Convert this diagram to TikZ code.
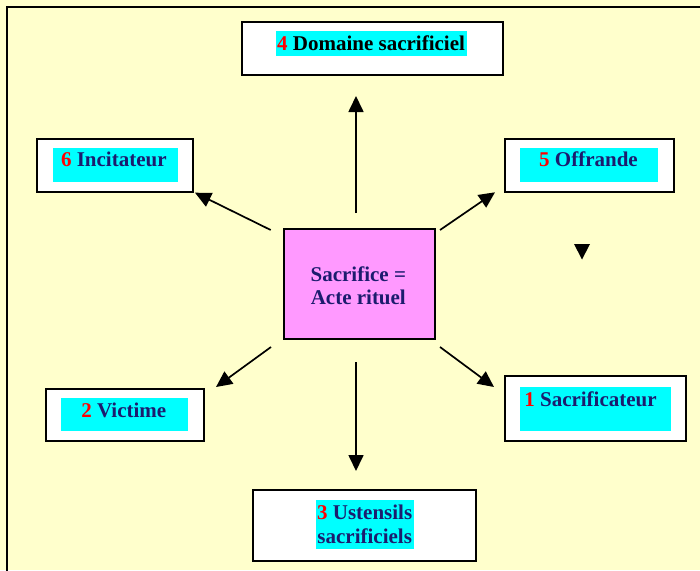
\documentclass[tikz,border=0pt]{standalone}
\usepackage{fontspec}
\setmainfont{Liberation Serif}
\usetikzlibrary{arrows.meta}
\definecolor{paper}{HTML}{FFFFCC}
\definecolor{pinkbox}{HTML}{FF99FF}
\definecolor{hl}{HTML}{00FFFF}
\definecolor{ink}{HTML}{1C1C6E}
\definecolor{num}{HTML}{FF0000}
\newcommand{\nb}[1]{\textcolor{num}{#1}}

\begin{document}
\begin{tikzpicture}[x=1pt,y=-1pt,
  frame/.style={draw=black,line width=2pt,fill=white,inner sep=0pt},
  centre/.style={frame,fill=pinkbox},
  lbl/.style={font=\fontsize{21}{23.5}\selectfont\bfseries,text=ink,inner sep=0pt,anchor=base,align=center},
  conn/.style={line width=1.7pt,-{Triangle[length=16pt,width=15pt]}},
]
\useasboundingbox (0,0) rectangle (700,570);
\fill[paper] (0,0) rectangle (700,570);
\draw[line width=2pt] (7,580) -- (7,7) -- (710,7);

% boxes
\node[frame,minimum width=261pt,minimum height=53pt] (n4) at (372.5,48) {};
\node[frame,minimum width=156pt,minimum height=53pt] (n6) at (115,165) {};
\node[frame,minimum width=169pt,minimum height=53pt] (n5) at (589,165) {};
\node[frame,minimum width=181pt,minimum height=65pt] (n1) at (595.5,408.5) {};
\node[frame,minimum width=158pt,minimum height=52pt] (n2) at (124.5,415) {};
\node[frame,minimum width=223pt,minimum height=71pt] (n3) at (364.5,525.7) {};
\node[centre,minimum width=151pt,minimum height=110pt] (c) at (359.5,284) {};

% cyan text highlights
\fill[hl] (276,31) rectangle (467,55.5);
\fill[hl] (53,147.5) rectangle (178,181.5);
\fill[hl] (520,147.5) rectangle (657.5,181.5);
\fill[hl] (520,387) rectangle (671,431);
\fill[hl] (61,397.5) rectangle (188,430.5);
\fill[hl] (316,500) rectangle (413.5,549);

% labels (multi-line labels sit on the baseline of their last line)
\node[lbl,text=black] (t4) at (371,50.7) {\nb{4} Domaine sacrificiel};
\node[lbl] (t6) at (113.8,166.7) {\nb{6} Incitateur};
\node[lbl] (t5) at (588.5,166.7) {\nb{5} Offrande};
\node[lbl] (t1) at (590.5,406.7) {\nb{1} Sacrificateur};
\node[lbl] (t2) at (123.8,417.7) {\nb{2} Victime};
\node[lbl] (t3) at (364.7,543) {\nb{3} Ustensils\\sacrificiels};
\node[lbl] (tc) at (358.3,304.5) {Sacrifice =\\Acte rituel};

% arrow ends
\coordinate (c-up) at (356,213);   \coordinate (n4-in) at (356,96);
\coordinate (c-dn) at (356,362);   \coordinate (n3-in) at (356,471);
\coordinate (c-ul) at (270.7,230); \coordinate (n6-in) at (195,192.7);
\coordinate (c-ur) at (440,230);   \coordinate (n5-in) at (495,192.3);
\coordinate (c-dl) at (271,347);   \coordinate (n2-in) at (216,387);
\coordinate (c-dr) at (440,347);   \coordinate (n1-in) at (494,387);

\draw[conn] (c-up) -- (n4-in);
\draw[conn] (c-dn) -- (n3-in);
\draw[conn] (c-ul) -- (n6-in);
\draw[conn] (c-ur) -- (n5-in);
\draw[conn] (c-dl) -- (n2-in);
\draw[conn] (c-dr) -- (n1-in);

% loose arrowhead
\fill (574,244) -- (590,244) -- (582,259.5) -- cycle;
\end{tikzpicture}
\end{document}
